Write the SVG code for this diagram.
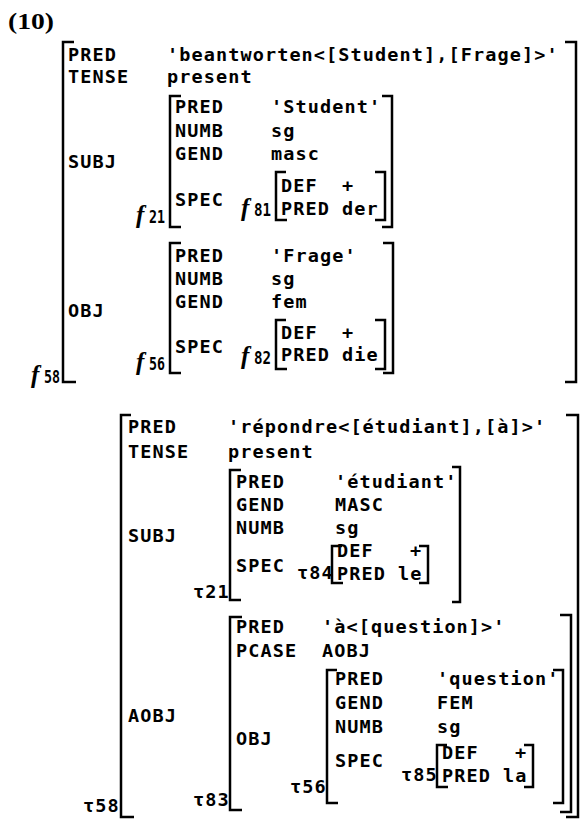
<svg xmlns="http://www.w3.org/2000/svg" width="584" height="825" viewBox="0 0 584 825">
<style>
.t{font-family:"DejaVu Sans Mono","Liberation Mono",monospace;font-size:18.5px;letter-spacing:1.1px;font-weight:bold;fill:#000}
.d{font-family:"DejaVu Sans Mono","Liberation Mono",monospace;font-size:18.5px;font-weight:bold;fill:#000}
.f{font-family:"Liberation Serif",serif;font-style:italic;font-weight:bold;font-size:25px;fill:#000}
.b{fill:none;stroke:#000;stroke-width:2.5}
.n{font-family:"Liberation Serif",serif;font-weight:bold;font-size:24px;fill:#000}
</style>
<rect width="584" height="825" fill="#fff"/>
<text class="n" x="8" y="29" textLength="46" lengthAdjust="spacingAndGlyphs">(10)</text>
<g id="f58">
<path class="b" d="M74 42H63V382H76"/>
<path class="b" d="M565 42H576V382H565"/>
<text class="t" x="68" y="61">PRED</text>
<text class="t" x="167" y="61">'beantworten&lt;[Student],[Frage]&gt;'</text>
<text class="t" x="68" y="83">TENSE</text>
<text class="t" x="167" y="83">present</text>
<text class="t" x="68" y="168">SUBJ</text>
<text class="t" x="68" y="317">OBJ</text>
<text class="f" x="31" y="383">f</text><text class="d" x="44" y="383" textLength="16" lengthAdjust="spacingAndGlyphs">58</text>
<g id="f21">
<path class="b" d="M181 96H170V227H181"/>
<path class="b" d="M382 96H392V227H382"/>
<text class="t" x="175" y="113">PRED</text><text class="t" x="271" y="113">'Student'</text>
<text class="t" x="175" y="137">NUMB</text><text class="t" x="271" y="137">sg</text>
<text class="t" x="175" y="160">GEND</text><text class="t" x="271" y="160">masc</text>
<text class="t" x="175" y="206">SPEC</text>
<text class="f" x="136" y="223">f</text><text class="d" x="149" y="223" textLength="16" lengthAdjust="spacingAndGlyphs">21</text>
<g id="f81">
<text class="f" x="241" y="216">f</text><text class="d" x="254" y="216" textLength="17" lengthAdjust="spacingAndGlyphs">81</text>
<path class="b" d="M286 172H276V220H287"/>
<path class="b" d="M375 172H385V220H375"/>
<text class="t" x="281" y="192">DEF</text><text class="t" x="342" y="192">+</text>
<text class="t" x="281" y="215">PRED</text><text class="t" x="342" y="215">der</text>
</g>
</g>
<g id="f56">
<path class="b" d="M181 243H170V373H181"/>
<path class="b" d="M383 243H393V373H383"/>
<text class="t" x="175" y="262">PRED</text><text class="t" x="271" y="262">'Frage'</text>
<text class="t" x="175" y="285">NUMB</text><text class="t" x="271" y="285">sg</text>
<text class="t" x="175" y="308">GEND</text><text class="t" x="271" y="308">fem</text>
<text class="t" x="175" y="353">SPEC</text>
<text class="f" x="136" y="370">f</text><text class="d" x="149" y="370" textLength="16" lengthAdjust="spacingAndGlyphs">56</text>
<g id="f82">
<text class="f" x="241" y="364">f</text><text class="d" x="254" y="364" textLength="17" lengthAdjust="spacingAndGlyphs">82</text>
<path class="b" d="M286 320H276V369H287"/>
<path class="b" d="M375 320H385V369H375"/>
<text class="t" x="281" y="339">DEF</text><text class="t" x="342" y="339">+</text>
<text class="t" x="281" y="361">PRED</text><text class="t" x="342" y="361">die</text>
</g>
</g>
</g>
<g id="t58">
<path class="b" d="M131 415H121V817H134"/>
<path class="b" d="M566 415H578V817H566"/>
<text class="t" x="128" y="433">PRED</text>
<text class="t" x="228" y="433">'répondre&lt;[étudiant],[à]&gt;'</text>
<text class="t" x="128" y="458">TENSE</text>
<text class="t" x="228" y="458">present</text>
<text class="t" x="128" y="542">SUBJ</text>
<text class="t" x="128" y="722">AOBJ</text>
<text class="t" x="83" y="812">τ58</text>
<g id="t21">
<path class="b" d="M241 470H230V600H241"/>
<path class="b" d="M452 467H460V602H452"/>
<text class="t" x="236" y="488">PRED</text><text class="t" x="335" y="488">'étudiant'</text>
<text class="t" x="236" y="511">GEND</text><text class="t" x="335" y="511">MASC</text>
<text class="t" x="236" y="534">NUMB</text><text class="t" x="335" y="534">sg</text>
<text class="t" x="236" y="572">SPEC</text>
<text class="t" x="193" y="598">τ21</text>
<g id="t84">
<text class="t" x="297" y="579">τ84</text>
<path class="b" d="M342 546H332V583H343"/>
<path class="b" d="M419 546H428V583H419"/>
<text class="t" x="337" y="557">DEF</text><text class="t" x="410" y="557">+</text>
<text class="t" x="337" y="580">PRED</text><text class="t" x="398" y="580">le</text>
</g>
</g>
<g id="t83">
<path class="b" d="M242 617H230V810H242"/>
<path class="b" d="M560 615H571V812H560"/>
<text class="t" x="236" y="633">PRED</text><text class="t" x="322" y="633">'à&lt;[question]&gt;'</text>
<text class="t" x="236" y="657">PCASE</text><text class="t" x="322" y="657">AOBJ</text>
<text class="t" x="236" y="745">OBJ</text>
<text class="t" x="193" y="806">τ83</text>
<g id="t56">
<path class="b" d="M337 670H327V803H338"/>
<path class="b" d="M553 670H563V803H553"/>
<text class="t" x="335" y="685">PRED</text><text class="t" x="437" y="685">'question'</text>
<text class="t" x="335" y="709">GEND</text><text class="t" x="437" y="709">FEM</text>
<text class="t" x="335" y="733">NUMB</text><text class="t" x="437" y="733">sg</text>
<text class="t" x="335" y="767">SPEC</text>
<text class="t" x="290" y="793">τ56</text>
<g id="t85">
<text class="t" x="401" y="781">τ85</text>
<path class="b" d="M447 745H437V787H448"/>
<path class="b" d="M524 745H533V787H524"/>
<text class="t" x="442" y="759">DEF</text><text class="t" x="515" y="759">+</text>
<text class="t" x="442" y="782">PRED</text><text class="t" x="503" y="782">la</text>
</g>
</g>
</g>
</g>
</svg>
